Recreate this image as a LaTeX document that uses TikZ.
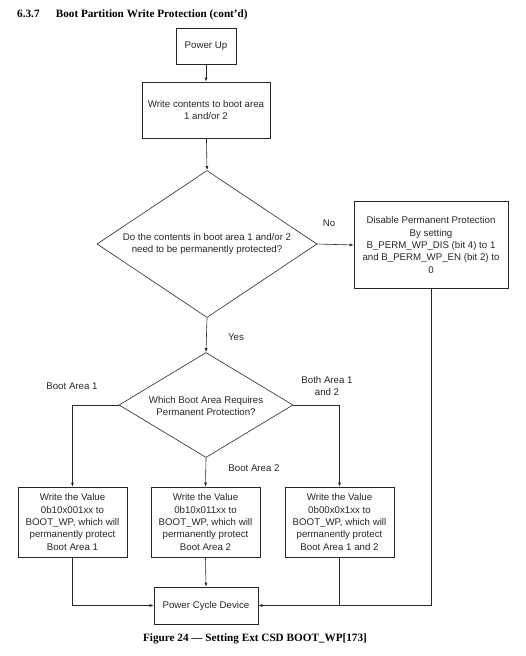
\documentclass[tikz,border=0pt]{standalone}
\usepackage{fontspec}
\setmainfont{Liberation Sans}
\newfontfamily\serifbf{Liberation Serif}
\usetikzlibrary{shapes.geometric,arrows.meta}
\begin{document}
\begin{tikzpicture}[x=1pt,y=-1pt,
  every node/.style={font=\fontsize{9.7}{12.4}\selectfont, align=center, inner sep=0pt, text=black!85},
  boxn/.style={draw=black!85, line width=0.6pt},
  dia/.style={draw=black!85, line width=0.6pt, diamond, inner sep=0pt},
  conn/.style={draw=black!85, line width=0.6pt},
  arr/.style={conn, -{Latex[length=4pt,width=3pt]}},
  heading/.style={font=\serifbf\bfseries\fontsize{11.2}{13}\selectfont, text=black}]
\useasboundingbox (0,0) rectangle (526,656);
\node[heading, anchor=west] (title) at (17,15) {6.3.7\hspace{1.45em}Boot Partition Write Protection (cont’d)};
\node[boxn, minimum width=60, minimum height=36] (pu) at (206,46) {Power Up};
\node[boxn, minimum width=128, minimum height=56] (wc) at (206,110) {Write contents to boot area\\1 and/or 2};
\node[dia, aspect=1.5, minimum width=220, minimum height=147] (d1) at (207,244) {};
\node (d1t) at (207,244) {Do the contents in boot area 1 and/or 2\\need to be permanently protected?};
\node[boxn, minimum width=154, minimum height=87] (dis) at (431,245) {Disable Permanent Protection\\By setting\\B\_PERM\_WP\_DIS (bit 4) to 1\\and B\_PERM\_WP\_EN (bit 2) to\\0};
\node (no) at (329,223) {No};
\node (yes) at (236,337) {Yes};
\node[dia, aspect=1.66, minimum width=174, minimum height=105] (d2) at (206,405) {};
\node (d2t) at (206,406) {Which Boot Area Requires\\Permanent Protection?};
\node (ba1) at (72,386) {Boot Area 1};
\node (both) at (327,386) {Both Area 1\\and 2};
\node (ba2) at (254,468) {Boot Area 2};
\node[boxn, minimum width=109, minimum height=70] (b1) at (72.5,522) {Write the Value\\0b10x001xx to\\BOOT\_WP, which will\\permanently protect\\Boot Area 1};
\node[boxn, minimum width=109, minimum height=70] (b2) at (205.5,522) {Write the Value\\0b10x011xx to\\BOOT\_WP, which will\\permanently protect\\Boot Area 2};
\node[boxn, minimum width=109, minimum height=70] (b3) at (339.5,522) {Write the Value\\0b00x0x1xx to\\BOOT\_WP, which will\\permanently protect\\Boot Area 1 and 2};
\node[boxn, minimum width=104, minimum height=37] (pc) at (206,605.5) {Power Cycle Device};
\node[heading] (cap) at (255,639) {Figure 24 — Setting Ext CSD BOOT\_WP[173]};
\coordinate (j) at (339.5,605.5);
\draw[arr] (pu) -- (wc);
\draw[arr] (wc) -- (d1.north);
\draw[arr] (d1.east) -- (dis.west);
\draw[arr] (d1.south) -- (d2.north);
\draw[arr] (d2.west) -| (b1.north);
\draw[arr] (d2.south) -- (b2.north);
\draw[arr] (d2.east) -| (b3.north);
\draw[arr] (b1.south) |- (pc.west);
\draw[arr] (b2.south) -- (pc.north);
\draw[conn] (b3.south) -- (j);
\draw[arr] (dis.south) |- (pc.east);
\end{tikzpicture}
\end{document}
